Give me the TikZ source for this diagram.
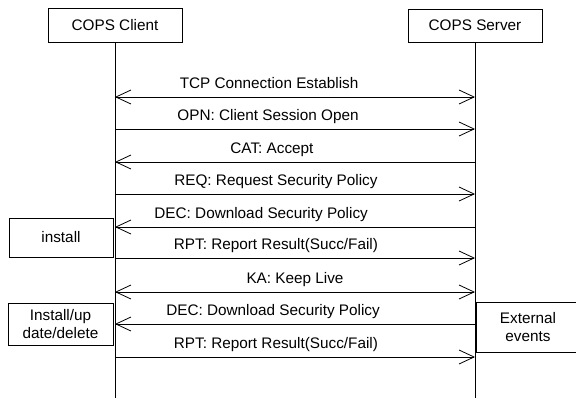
\documentclass[tikz,border=0pt]{standalone}
\usepackage{fontspec}
\setmainfont{Liberation Sans}
\usetikzlibrary{arrows.meta}
\tikzset{
  party/.style={rectangle, draw=black, line width=0.8pt, minimum width=134pt, minimum height=34pt, text centered, font=\fontsize{15.3}{18}\selectfont},
  action/.style={rectangle, draw=black, line width=0.8pt, inner sep=0pt, align=center, font=\fontsize{15.3}{18}\selectfont},
  life/.style={line width=0.8pt},
  msg/.style={line width=0.8pt, >={Straight Barb[length=15pt,width=14pt,line width=0.8pt]}},
  lbl/.style={anchor=base, yshift=9pt, inner sep=0pt, font=\fontsize{15.3}{18}\selectfont}
}

\begin{document}
\begin{tikzpicture}[x=1pt, y=-1pt]
    \useasboundingbox (0,0) rectangle (576,402);

    % 1. Cajas de los extremos
    \node[party] (client) at (115,25) {COPS Client};
    \node[party, minimum height=33pt] (server) at (475,25.5) {COPS Server};

    % Lineas de vida
    \coordinate (cEnd) at (115,398);
    \coordinate (sEnd) at (475,398);
    \draw[life] (client.south) -- (cEnd);
    \draw[life] (server.south) -- (sEnd);

    % Puntos de los mensajes sobre cada linea de vida
    \foreach \i/\y in {1/97, 2/129, 3/162, 4/194, 5/227, 6/258, 7/292, 8/324, 9/357} {
        \coordinate (c\i) at (115,\y);
        \coordinate (s\i) at (475,\y);
    }

    % 2. Mensajes
    \draw[msg, <->] (c1) -- node[lbl, pos=0.428] {TCP Connection Establish} (s1);
    \draw[msg, ->] (c2) -- node[lbl, pos=0.425] {OPN: Client Session Open} (s2);
    \draw[msg, <-] (c3) -- node[lbl, pos=0.436] {CAT: Accept} (s3);
    \draw[msg, ->] (c4) -- node[lbl, pos=0.447] {REQ: Request Security Policy} (s4);
    \draw[msg, <-] (c5) -- node[lbl, pos=0.406] {DEC: Download Security Policy} (s5);
    \draw[msg, ->] (c6) -- node[lbl, pos=0.447] {RPT: Report Result(Succ/Fail)} (s6);
    \draw[msg, <->] (c7) -- node[lbl, pos=0.5] {KA: Keep Live} (s7);
    \draw[msg, <-] (c8) -- node[lbl, pos=0.439] {DEC: Download Security Policy} (s8);
    \draw[msg, ->] (c9) -- node[lbl, pos=0.447] {RPT: Report Result(Succ/Fail)} (s9);

    % 3. Acciones locales
    \node[action, minimum width=104pt, minimum height=39pt] (install) at (61,237.5) {install};
    \node[action, minimum width=105pt, minimum height=42pt] (update) at (60.5,324) {Install/up\\date/delete};
    \node[action, minimum width=104pt, minimum height=50pt] (external) at (528,327) {External\\events};

\end{tikzpicture}
\end{document}
